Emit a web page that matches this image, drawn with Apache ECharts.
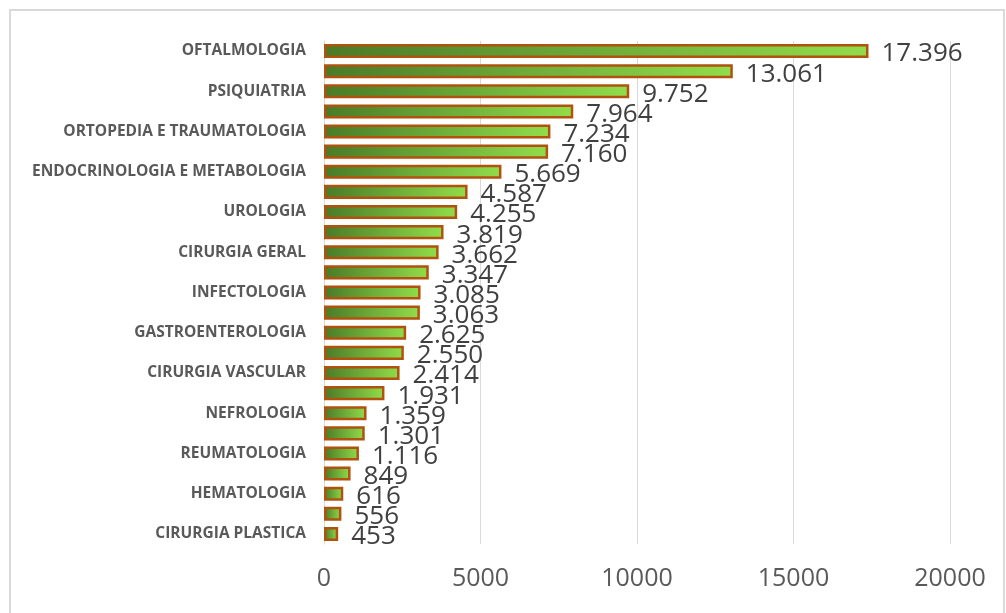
<!DOCTYPE html>
<html><head><meta charset="utf-8">
<script src="https://cdn.jsdelivr.net/npm/echarts@6/dist/echarts.min.js"></script>
<style>html,body{margin:0;padding:0;background:#fff}#c{width:1006px;height:613px}</style>
</head><body><div id="c"></div>
<script>
const categories = ["OFTALMOLOGIA","CARDIOLOGIA","PSIQUIATRIA","NEUROLOGIA","ORTOPEDIA E TRAUMATOLOGIA","DERMATOLOGIA","ENDOCRINOLOGIA E METABOLOGIA","OTORRINOLARINGOLOGIA","UROLOGIA","GINECOLOGIA","CIRURGIA GERAL","PNEUMOLOGIA","INFECTOLOGIA","ONCOLOGIA","GASTROENTEROLOGIA","PROCTOLOGIA","CIRURGIA VASCULAR","MASTOLOGIA","NEFROLOGIA","GERIATRIA","REUMATOLOGIA","ANGIOLOGIA","HEMATOLOGIA","NEUROCIRURGIA","CIRURGIA PLASTICA"];
const values = [17396,13061,9752,7964,7234,7160,5669,4587,4255,3819,3662,3347,3085,3063,2625,2550,2414,1931,1359,1301,1116,849,616,556,453];
const xTicks = ["0","5000","10000","15000","20000"];

function fmt(v){return String(v).replace(/\B(?=(\d{3})+(?!\d))/g,'.');}
const chart = echarts.init(document.getElementById('c'));
chart.setOption({
  animation:false,
  graphic:[{type:'rect',shape:{x:10,y:10,width:994,height:640},style:{fill:'none',stroke:'#d9d9d9',lineWidth:2},z:-1}],
  grid:{left:324,right:56,top:41,bottom:69},
  xAxis:{type:'value',min:Number(xTicks[0]),max:Number(xTicks[xTicks.length-1]),interval:5000,
    axisLine:{show:false},axisTick:{show:false},
    splitLine:{lineStyle:{color:'#d9d9d9',width:1}},
    axisLabel:{color:'#595959',fontSize:25,fontFamily:'Open Sans',margin:22,
      formatter:v=>xTicks[Math.round(v/5000)]}},
  yAxis:{type:'category',data:categories,inverse:true,
    axisLine:{show:true,lineStyle:{color:'#d9d9d9'}},axisTick:{show:false},
    axisLabel:{interval:1,color:'#595959',fontSize:15.5,fontWeight:'bold',fontFamily:'Open Sans',margin:18}},
  series:[{type:'bar',data:values,barCategoryGap:'30%',
    itemStyle:{borderColor:'#b0530f',borderWidth:2.5,
      color:new echarts.graphic.LinearGradient(0,0,1,0,[{offset:0,color:'#4a7a27'},{offset:1,color:'#92dd4a'}])},
    label:{show:true,position:'right',distance:13,color:'#404040',fontSize:26,fontFamily:'Open Sans',
      formatter:p=>fmt(p.value),offset:[0,3]}}]
});
</script></body></html>
